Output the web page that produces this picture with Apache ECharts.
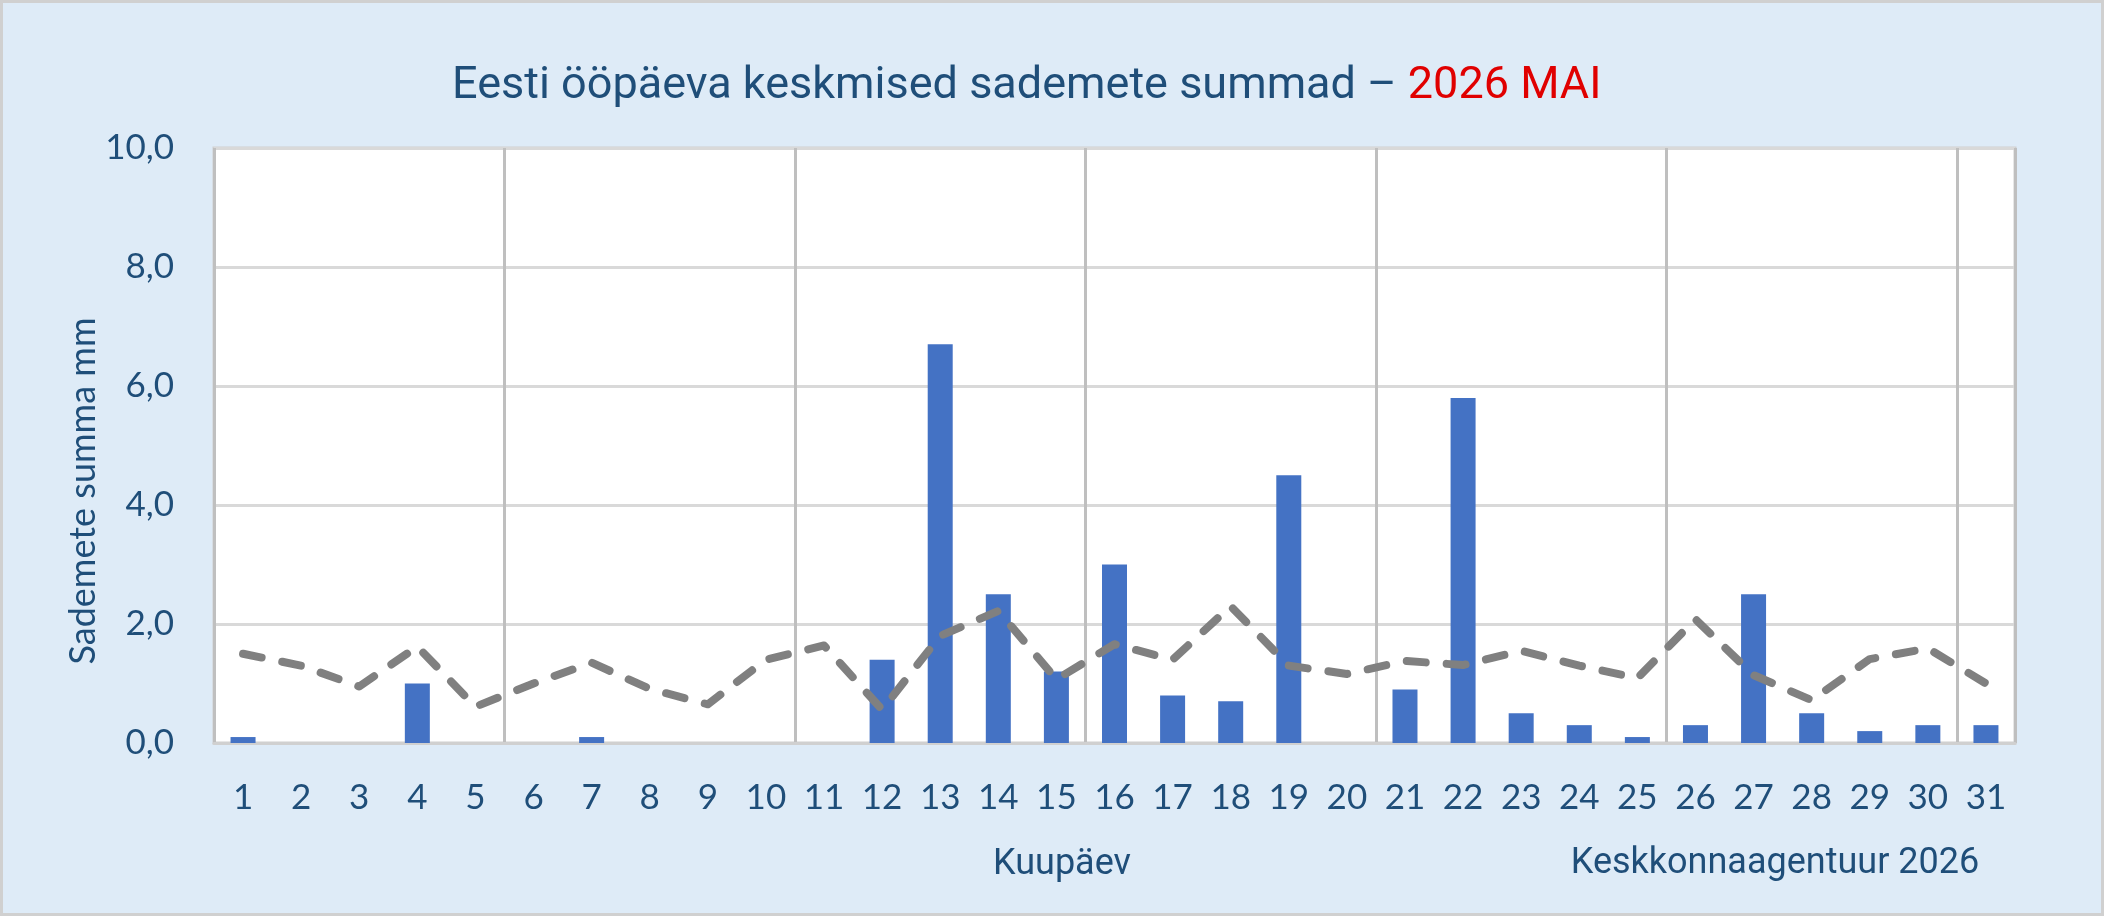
<!DOCTYPE html>
<html>
<head>
<meta charset="utf-8">
<script src="https://cdn.jsdelivr.net/npm/echarts@6/dist/echarts.min.js"></script>
<style>
  html, body { margin: 0; padding: 0; background: #deebf7; }
  #chart { width: 2104px; height: 916px; }
</style>
</head>
<body>
<div id="chart"></div>
<script>
// ---- data ----
var days = ['1','2','3','4','5','6','7','8','9','10','11','12','13','14','15','16','17','18','19','20','21','22','23','24','25','26','27','28','29','30','31'];
var precip = [0.1, 0, 0, 1.0, 0, 0, 0.1, 0, 0, 0, 0, 1.4, 6.7, 2.5, 1.2, 3.0, 0.8, 0.7, 4.5, 0, 0.9, 5.8, 0.5, 0.3, 0.1, 0.3, 2.5, 0.5, 0.2, 0.3, 0.3];
var normal = [1.5, 1.3, 0.95, 1.62, 0.61, 1.0, 1.35, 0.91, 0.65, 1.4, 1.64, 0.56, 1.8, 2.22, 1.07, 1.66, 1.4, 2.3, 1.3, 1.16, 1.38, 1.31, 1.55, 1.3, 1.09, 2.08, 1.14, 0.72, 1.41, 1.59, 1.0];
var yMin = 0, yMax = 10, yStep = 2;
var titleMain = 'Eesti ööpäeva keskmised sademete summad – ';
var titleRed = '2026 MAI';
var yName = 'Sademete summa mm';
var xName = 'Kuupäev';
var credit = 'Keskkonnaagentuur 2026';

var navy = '#1f4e79';
var chart = echarts.init(document.getElementById('chart'), null, { renderer: 'canvas' });
chart.setOption({
  animation: false,
  backgroundColor: '#deebf7',
  title: {
    text: '{a|' + titleMain + '}{b|' + titleRed + '}',
    left: 452, top: 64, padding: 0,
    textStyle: {
      fontWeight: 'normal',
      rich: {
        a: { color: navy, fontSize: 45, fontWeight: 'normal', fontFamily: 'Roboto', lineHeight: 46 },
        b: { color: '#e00000', fontSize: 45, fontWeight: 'normal', fontFamily: 'Roboto', lineHeight: 46 }
      }
    }
  },
  grid: {
    left: 214, right: 89, top: 148, bottom: 173,
    show: true, backgroundColor: '#ffffff', borderColor: '#d0d0d0', borderWidth: 3
  },
  xAxis: {
    type: 'category',
    data: days,
    boundaryGap: true,
    axisLine: { show: true, lineStyle: { color: '#d0d0d0', width: 3 } },
    axisTick: { show: false },
    axisLabel: { interval: 0, margin: 37, color: navy, fontSize: 35, fontFamily: 'Lato' },
    splitLine: { show: true, interval: 4, lineStyle: { color: '#bfbfbf', width: 3 } }
  },
  yAxis: {
    type: 'value',
    min: yMin, max: yMax, interval: yStep,
    axisLine: { show: false },
    axisTick: { show: false },
    axisLabel: {
      margin: 40, color: navy, fontSize: 35, fontFamily: 'Lato',
      formatter: function (v) { return v.toFixed(1).replace('.', ','); }
    },
    splitLine: { show: true, lineStyle: { color: '#d9d9d9', width: 3 } }
  },
  series: [
    {
      type: 'bar',
      data: precip,
      barWidth: 25,
      itemStyle: { color: '#4472c4' },
      z: 2
    },
    {
      type: 'line',
      data: normal,
      symbol: 'none',
      smooth: false,
      lineStyle: { color: '#808080', width: 8, type: [19, 21], cap: 'round', join: 'round' },
      z: 3
    }
  ],
  graphic: [
    {
      type: 'rect', silent: true,
      shape: { x: 1.5, y: 1.5, width: 2101, height: 913 },
      style: { fill: 'none', stroke: '#d0d0d0', lineWidth: 3 },
      z: 100
    },
    {
      type: 'text', x: 83, y: 491, rotation: Math.PI / 2,
      style: { text: yName, fill: navy, fontSize: 36, fontFamily: 'Lato', align: 'center', verticalAlign: 'middle' }
    },
    {
      type: 'text', x: 1062, y: 865,
      style: { text: xName, fill: navy, fontSize: 36, fontFamily: 'Roboto', align: 'center', verticalAlign: 'middle' }
    },
    {
      type: 'text', x: 1775, y: 864,
      style: { text: credit, fill: navy, fontSize: 36, fontFamily: 'Roboto', align: 'center', verticalAlign: 'middle' }
    }
  ]
});
</script>
</body>
</html>
